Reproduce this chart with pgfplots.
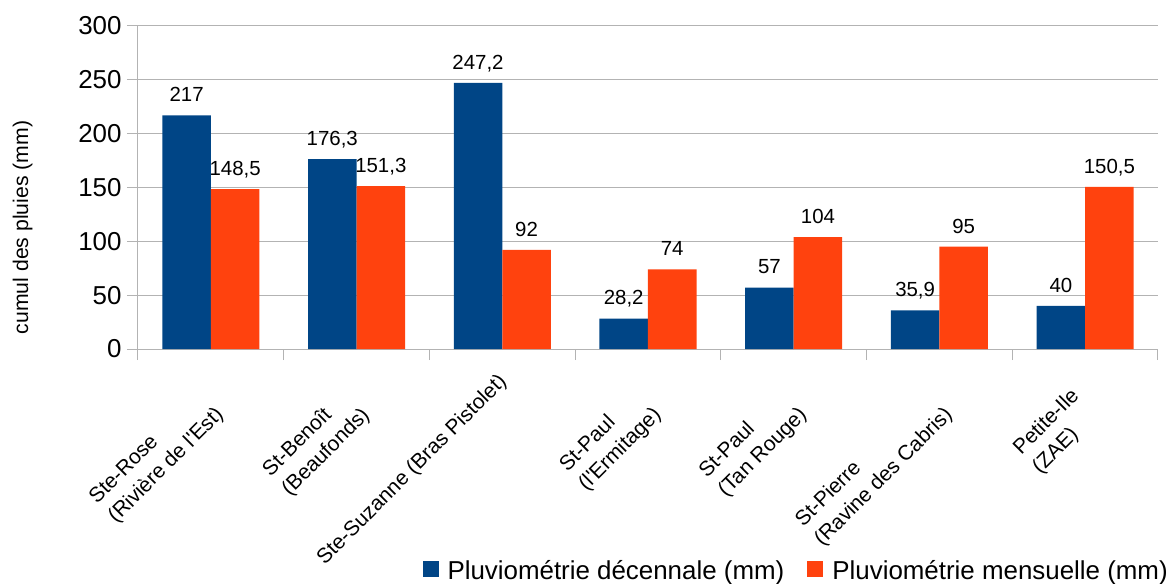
\documentclass[border=0pt]{standalone}
\usepackage{fontspec}
\setmainfont{Liberation Sans}[Ligatures=TeXOff]
\usepackage{pgfplots}
\pgfplotsset{compat=1.18}
\definecolor{deca}{HTML}{004586}
\definecolor{mens}{HTML}{FF420E}
\definecolor{grille}{HTML}{B3B3B3}

\begin{document}
\begin{tikzpicture}
\begin{axis}[
  scale only axis, width=1020bp, height=323bp,
  at={(0,0)}, anchor=south west,
  xmin=-0.5, xmax=6.5, ymin=0, ymax=300,
  ybar=0pt, bar width=0.333,
  axis x line*=bottom, axis y line*=left,
  axis line style={grille, line width=1bp},
  tick align=outside,
  tick style={grille, line width=1bp},
  major tick length=11bp, minor tick length=11bp,
  major x tick style={draw=none},
  ytick={0,50,...,300},
  ymajorgrids, major grid style={grille, line width=1bp},
  xtick={0,1,3,4,5,6},
  minor xtick={-0.5,0.5,...,6.5},
  xticklabels={{Ste-Rose\\(Rivière de l'Est)},{St-Benoît\\(Beaufonds)},{St-Paul\\(l'Ermitage)},{St-Paul\\(Tan Rouge)},{St-Pierre\\(Ravine des Cabris)},{Petite-Ile\\(ZAE)}},
  xticklabel style={xshift=-16bp, yshift=-26bp, rotate=45, anchor=north east,
    align=left, inner sep=0pt, font=\fontsize{21}{27}\selectfont},
  extra x ticks={2},
  extra x tick labels={Ste-Suzanne (Bras Pistolet)},
  extra x tick style={xticklabel style={xshift=17.4bp, yshift=2.8bp}},
  yticklabel style={xshift=-2bp, font=\fontsize{26}{30}\selectfont},
  /pgf/number format/assume math mode=true,
  ylabel={cumul des pluies (mm)},
  ylabel style={at={(axis description cs:-0.1132,0.376)}, anchor=center,
    inner sep=0pt, font=\fontsize{21.3}{24}\selectfont},
  nodes near coords={\pgfmathprintnumber[use comma]{\pgfplotspointmeta}},
  every node near coord/.append style={black, anchor=south, inner sep=0pt,
    text depth=0pt, yshift=13.5bp, font=\fontsize{20.5}{24}\selectfont},
  legend columns=2,
  legend image code/.code={\path[#1] (0bp,-6bp) rectangle (16bp,10bp);},
  legend style={at={(axis description cs:1.0098,-0.72)}, anchor=south east,
    draw=none, fill=none, inner sep=0pt, nodes={inner sep=0pt},
    font=\fontsize{26}{30}\selectfont,
    /tikz/every odd column/.append style={column sep=9bp},
    /tikz/every even column/.append style={column sep=23bp}},
]
\addplot[fill=deca, draw=none] coordinates {(0,217) (1,176.3) (2,247.2) (3,28.2) (4,57) (5,35.9) (6,40)};
\addplot[fill=mens, draw=none] coordinates {(0,148.5) (1,151.3) (2,92) (3,74) (4,104) (5,95) (6,150.5)};
\legend{Pluviométrie décennale (mm), Pluviométrie mensuelle (mm)}
\end{axis}
\pgfresetboundingbox
\path (-138bp,-235bp) rectangle (1034bp,349bp);
\end{tikzpicture}
\end{document}
